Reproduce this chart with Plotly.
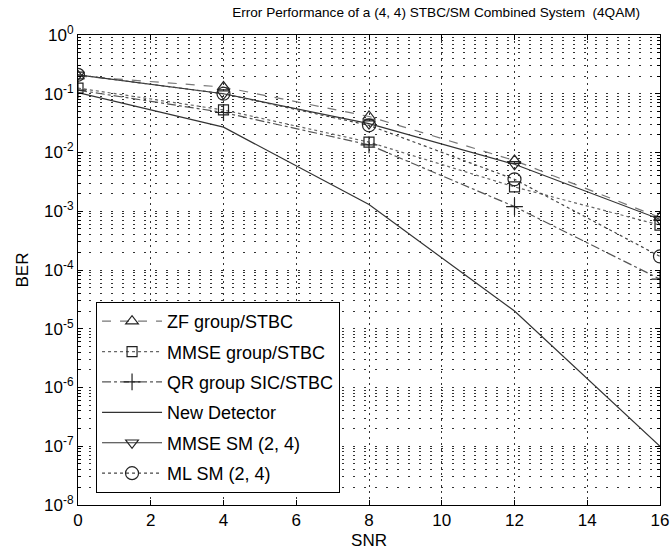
import plotly.graph_objects as go

snr = [0, 4, 8, 12, 16]
zf_group = [0.20, 0.13, 0.041, 7.3e-3, 7.8e-4]
mmse_group = [0.125, 0.053, 0.015, 2.6e-3, 5.8e-4]
qr_group = [0.115, 0.048, 0.0135, 1.2e-3, 7.0e-5]
new_detector = [0.105, 0.027, 1.3e-3, 2.0e-5, 1.0e-7]
mmse_sm = [0.21, 0.10, 0.031, 6.3e-3, 7.3e-4]
ml_sm = [0.21, 0.10, 0.029, 3.5e-3, 1.7e-4]

names = ["ZF group/STBC", "MMSE group/STBC", "QR group SIC/STBC",
         "New Detector", "MMSE SM (2, 4)", "ML SM (2, 4)"]
y_tickvals = [1e-8, 1e-7, 1e-6, 1e-5, 1e-4, 1e-3, 1e-2, 1e-1, 1e0]
y_ticktext = ["10<sup>-8</sup>", "10<sup>-7</sup>", "10<sup>-6</sup>", "10<sup>-5</sup>",
              "10<sup>-4</sup>", "10<sup>-3</sup>", "10<sup>-2</sup>", "10<sup>-1</sup>",
              "10<sup>0</sup>"]
x_tickvals = [0, 2, 4, 6, 8, 10, 12, 14, 16]

series = [zf_group, mmse_group, qr_group, new_detector, mmse_sm, ml_sm]
styles = [
    dict(dash="dash", color="#777", symbol="triangle-up-open", size=11, mode="lines+markers"),
    dict(dash="dot", color="#666", symbol="square-open", size=10, mode="lines+markers"),
    dict(dash="dashdot", color="#555", symbol="cross-thin-open", size=12, mode="lines+markers"),
    dict(dash="solid", color="#333", symbol="circle", size=1, mode="lines"),
    dict(dash="solid", color="#333", symbol="triangle-down-open", size=11, mode="lines+markers"),
    dict(dash="dot", color="#444", symbol="circle-open", size=13, mode="lines+markers"),
]

font = "Liberation Sans, Arial, sans-serif"
fig = go.Figure()
for i, (nm, ys, st) in enumerate(zip(names, series, styles)):
    fig.add_trace(go.Scatter(
        x=snr, y=ys, name=nm, mode=st["mode"], legendgroup=str(i),
        line=dict(color=st["color"], width=1.2, dash=st["dash"]),
        marker=dict(symbol=st["symbol"], size=st["size"], color="#222",
                    line=dict(color="#222", width=1.2)),
    ))

fig.update_layout(
    width=671, height=555, autosize=False,
    margin=dict(l=78, r=11, t=35, b=50),
    paper_bgcolor="white", plot_bgcolor="white",
    font=dict(family=font, size=18, color="black"),
    title=dict(text="Error Performance of a (4, 4) STBC/SM Combined System  (4QAM)",
               x=0.65, xanchor="center", y=0.978, yanchor="middle",
               font=dict(size=13.6, family=font, color="black")),
    showlegend=True,
    legend=dict(x=0.031, y=0.432, xanchor="left", yanchor="top",
                bgcolor="white", bordercolor="black", borderwidth=1,
                font=dict(size=18, family=font), tracegroupgap=4,
                itemwidth=60, traceorder="grouped"),
    xaxis=dict(range=[0, 16], tickvals=x_tickvals, showline=True, mirror="ticks",
               linecolor="black", linewidth=1, ticks="inside", ticklen=5,
               tickcolor="black", showgrid=True, gridcolor="#333",
               griddash="2px,4px", gridwidth=1, zeroline=False, automargin=False,
               title=dict(text="SNR", standoff=4, font=dict(size=17)),
               tickfont=dict(size=17)),
    yaxis=dict(type="log", range=[-8, 0], tickvals=y_tickvals, ticktext=y_ticktext,
               showline=True, mirror="ticks", linecolor="black", linewidth=1,
               ticks="inside", ticklen=5, tickcolor="black", showgrid=True,
               gridcolor="#333", griddash="2px,9px", gridwidth=1, zeroline=False,
               automargin=False,
               minor=dict(dtick="D1", showgrid=True, gridcolor="#333",
                          griddash="2px,9px", gridwidth=1, ticks="inside",
                          ticklen=3, tickcolor="black"),
               title=dict(text="BER", standoff=11, font=dict(size=17)),
               tickfont=dict(size=17)),
)

fig.write_html("out.html",
               config={"displayModeBar": False, "responsive": False},
               post_script="document.body.style.margin='0';document.body.style.overflow='hidden';")
